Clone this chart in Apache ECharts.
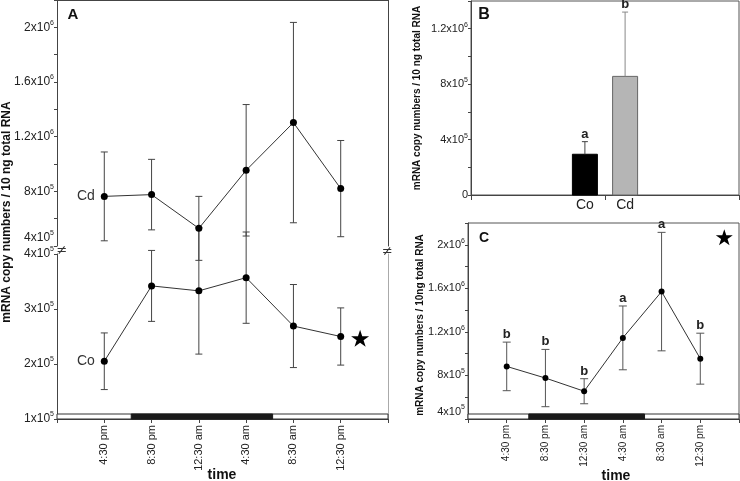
<!DOCTYPE html>
<html><head><meta charset="utf-8">
<script src="https://cdn.jsdelivr.net/npm/echarts@6/dist/echarts.min.js"></script>
<style>html,body{margin:0;padding:0;background:#fff}#c{width:740px;height:481px}</style>
</head><body><div id="c"></div>
<script>
// ---------- data ----------
const timeLabels = ['4:30 pm', '8:30 pm', '12:30 am', '4:30 am', '8:30 am', '12:30 pm'];
const seriesNames = ['Cd', 'Co'];
// Panel A
const cdMean = [7.63e5, 7.76e5, 5.29e5, 9.54e5, 13.03e5, 8.2e5];
const cdErr  = [3.25e5, 2.58e5, 2.34e5, 4.81e5, 7.33e5, 3.52e5];
const coMean = [2.05e5, 3.42e5, 3.33e5, 3.57e5, 2.69e5, 2.5e5];
const coErr  = [0.515e5, 0.645e5, 1.15e5, 0.83e5, 0.755e5, 0.52e5];
// Panel B
const bCats = ['Co', 'Cd'];
const bMean = [2.94e5, 8.56e5];
const bErr  = [0.91e5, 4.64e5];
const bLetters = ['a', 'b'];
// Panel C
const cMean = [8.83e5, 7.76e5, 6.55e5, 11.45e5, 15.7e5, 9.54e5];
const cErr  = [2.23e5, 2.63e5, 1.15e5, 2.93e5, 5.44e5, 2.34e5];
const cLetters = ['b', 'b', 'b', 'a', 'a', 'b'];
// dark period (in time-slot units, 4:30 pm = 1)
const nightStart = 1.57, nightEnd = 4.56;

// ---------- helpers ----------
const FF = 'Liberation Sans, Arial, sans-serif';
const TXT = '#222';
function sci(v) {
  if (v === 0) return '0';
  const e = Math.floor(Math.log10(v) + 1e-9);
  const m = +(v / Math.pow(10, e)).toFixed(1);
  return '{b|' + m + 'x10}{s|' + e + '}';
}
function yLab(size, every) {
  return {
    fontFamily: FF, color: TXT, margin: 3, fontSize: size,
    formatter: v => (Math.round(v / 1e5) % every === 0) ? sci(v) : '',
    rich: {
      b: {fontSize: size, fontFamily: FF, color: TXT, lineHeight: size + 4},
      s: {fontSize: Math.round(size * 0.62), fontFamily: FF, color: TXT, verticalAlign: 'top', lineHeight: Math.round(size * 0.62)}
    }
  };
}
const axLine = c => ({show: true, lineStyle: {color: c || '#444', width: 1}});
function errRender(letters, cap, color, up) {
  return function (params, api) {
    const x = api.value(0), m = api.value(1), e = api.value(2);
    const t = api.coord([x, m + e]);
    const b = up ? api.coord([x, m]) : api.coord([x, m - e]);
    const st = {stroke: color, lineWidth: 1};
    const ch = [
      {type: 'line', shape: {x1: t[0], y1: t[1], x2: b[0], y2: b[1]}, style: st},
      {type: 'line', shape: {x1: t[0] - cap / 2, y1: t[1], x2: t[0] + cap / 2, y2: t[1]}, style: st}
    ];
    if (!up) ch.push({type: 'line', shape: {x1: b[0] - cap / 2, y1: b[1], x2: b[0] + cap / 2, y2: b[1]}, style: st});
    if (letters) ch.push({type: 'text', x: t[0], y: t[1] - 1, style: {text: letters[params.dataIndex], align: 'center', verticalAlign: 'bottom', font: 'bold 13px ' + FF, fill: TXT}});
    return {type: 'group', children: ch};
  };
}
function dayNight(yMin) {
  return function (params, api) {
    const p0 = api.coord([api.value(0), yMin]);
    const p1 = api.coord([api.value(1), yMin]);
    const night = api.value(2) === 1;
    return {type: 'rect', shape: {x: p0[0], y: p0[1] - 5, width: p1[0] - p0[0], height: 5},
      style: night ? {fill: '#1a1a1a', stroke: '#1a1a1a', lineWidth: 1} : {fill: '#fff', stroke: '#333', lineWidth: 1}};
  };
}
const starPath = 'path://M100,0 L122.45,69.1 L195.1,69.1 L136.3,111.8 L158.8,180.9 L100,138.2 L41.2,180.9 L63.7,111.8 L4.9,69.1 L77.55,69.1 Z';
const pts = arr => arr.map((v, i) => [i + 1, v]);
const errPts = (m, e) => m.map((v, i) => [i + 1, v, e[i]]);
const barPos = i => 0.85 + 0.3 * i;

const chart = echarts.init(document.getElementById('c'), null, {renderer: 'canvas'});
const option = {
  animation: false,
  backgroundColor: '#fff',
  textStyle: {fontFamily: FF},
  grid: [
    {left: 57, top: 0, width: 331, height: 246},
    {left: 57, top: 254, width: 331, height: 165},
    {left: 471, top: 1, right: 1, height: 194, show: true, borderColor: '#555', borderWidth: 1},
    {left: 468, top: 223, right: 1, height: 196, show: true, borderColor: '#555', borderWidth: 1}
  ],
  xAxis: [
    {gridIndex: 0, type: 'value', min: 0, max: 7, position: 'top', axisLine: axLine(), axisTick: {show: false}, axisLabel: {show: false}, splitLine: {show: false}},
    {gridIndex: 1, type: 'value', min: 0, max: 7, interval: 1, axisLine: axLine(), axisTick: {show: true, length: 4, lineStyle: {color: '#444'}},
      axisLabel: {rotate: 90, fontSize: 11, color: TXT, margin: 6, fontFamily: FF, formatter: v => timeLabels[v - 1] || ''}, splitLine: {show: false}},
    {gridIndex: 2, type: 'value', min: 0, max: 2, interval: 1, axisLine: axLine(), axisTick: {show: true, length: 5, lineStyle: {color: '#444'}}, axisLabel: {show: false}, splitLine: {show: false}},
    {gridIndex: 3, type: 'value', min: 0, max: 7, interval: 1, axisLine: axLine(), axisTick: {show: true, length: 4, lineStyle: {color: '#444'}},
      axisLabel: {rotate: 90, fontSize: 10, color: TXT, margin: 6, fontFamily: FF, formatter: v => timeLabels[v - 1] || ''}, splitLine: {show: false}}
  ],
  yAxis: [
    Object.assign({gridIndex: 0, type: 'value', min: 4e5, max: 2.2e6, interval: 2e5, axisLine: axLine(), axisTick: {length: 3, lineStyle: {color: '#444'}}, splitLine: {show: false}},
      {axisLabel: Object.assign(yLab(12, 4), {verticalAlignMinLabel: 'bottom'})}),
    {gridIndex: 0, type: 'value', position: 'right', min: 4e5, max: 2.2e6, axisLine: axLine(), axisTick: {show: false}, axisLabel: {show: false}, splitLine: {show: false}},
    {gridIndex: 1, type: 'value', min: 1e5, max: 4e5, interval: 1e5, axisLine: axLine(), axisTick: {length: 3, lineStyle: {color: '#444'}}, splitLine: {show: false}, axisLabel: yLab(12, 1)},
    {gridIndex: 1, type: 'value', position: 'right', min: 1e5, max: 4e5, axisLine: axLine('#aaa'), axisTick: {show: false}, axisLabel: {show: false}, splitLine: {show: false}},
    {gridIndex: 2, type: 'value', min: 0, max: 1.4e6, interval: 2e5, axisLine: axLine(), axisTick: {length: 3, lineStyle: {color: '#444'}}, splitLine: {show: false}, axisLabel: yLab(11, 4)},
    {gridIndex: 3, type: 'value', min: 4e5, max: 2.2e6, interval: 2e5, axisLine: axLine(), axisTick: {length: 3, lineStyle: {color: '#444'}}, splitLine: {show: false},
      axisLabel: Object.assign(yLab(11, 4), {verticalAlignMinLabel: 'bottom'})}
  ],
  series: [
    // Panel A
    {type: 'custom', xAxisIndex: 1, yAxisIndex: 2, clip: false, renderItem: dayNight(1e5), data: [[0, 7, 0], [nightStart, nightEnd, 1]], z: 1},
    {type: 'custom', xAxisIndex: 0, yAxisIndex: 0, clip: false, renderItem: errRender(null, 7, '#444', false), data: errPts(cdMean, cdErr), z: 2},
    {type: 'custom', xAxisIndex: 1, yAxisIndex: 2, clip: false, renderItem: errRender(null, 7, '#444', false), data: errPts(coMean, coErr), z: 2},
    {type: 'line', name: seriesNames[0], xAxisIndex: 0, yAxisIndex: 0, data: pts(cdMean), symbol: 'circle', symbolSize: 7, z: 5,
      itemStyle: {color: '#000'}, lineStyle: {color: '#333', width: 1},
      label: {show: true, position: 'left', distance: 6, fontSize: 14, color: '#333', fontFamily: FF, formatter: p => p.dataIndex === 0 ? seriesNames[0] : ''}},
    {type: 'line', name: seriesNames[1], xAxisIndex: 1, yAxisIndex: 2, data: pts(coMean), symbol: 'circle', symbolSize: 7, z: 5, clip: false,
      itemStyle: {color: '#000'}, lineStyle: {color: '#333', width: 1},
      label: {show: true, position: 'left', distance: 6, fontSize: 14, color: '#333', fontFamily: FF, formatter: p => p.dataIndex === 0 ? seriesNames[1] : ''}},
    {type: 'scatter', xAxisIndex: 1, yAxisIndex: 2, data: [[6.41, 2.47e5]], symbol: starPath, symbolSize: [18, 17], itemStyle: {color: '#000', opacity: 1}, silent: true},
    // Panel B
    {type: 'custom', xAxisIndex: 2, yAxisIndex: 4, clip: false, z: 2,
      data: bMean.map((v, i) => [barPos(i), v, i]),
      renderItem: function (params, api) {
        const x = api.value(0), v = api.value(1), i = api.value(2);
        const p = api.coord([x, v]), b = api.coord([x, 0]);
        const w = 25;
        return {type: 'group', children: [
          {type: 'rect', shape: {x: p[0] - w / 2, y: p[1], width: w, height: b[1] - p[1]},
            style: {fill: i === 0 ? '#000' : '#b5b5b5', stroke: i === 0 ? '#000' : '#666', lineWidth: 1}},
          {type: 'text', x: b[0], y: b[1] + 10, style: {text: bCats[i], align: 'center', verticalAlign: 'middle', font: '14px ' + FF, fill: TXT}}
        ]};
      }},
    {type: 'custom', xAxisIndex: 2, yAxisIndex: 4, clip: false, z: 3,
      renderItem: function (params, api) {
        const f = errRender(bLetters, 6, params.dataIndex === 0 ? '#444' : '#888', true);
        return f(params, api);
      },
      data: bMean.map((v, i) => [barPos(i), v, bErr[i]])},
    // Panel C
    {type: 'custom', xAxisIndex: 3, yAxisIndex: 5, clip: false, renderItem: dayNight(4e5), data: [[0, 7, 0], [nightStart, nightEnd, 1]], z: 1},
    {type: 'custom', xAxisIndex: 3, yAxisIndex: 5, clip: false, renderItem: errRender(cLetters, 8, '#555', false), data: errPts(cMean, cErr), z: 2},
    {type: 'line', xAxisIndex: 3, yAxisIndex: 5, data: pts(cMean), symbol: 'circle', symbolSize: 6, z: 5,
      itemStyle: {color: '#000'}, lineStyle: {color: '#333', width: 1}},
    {type: 'scatter', xAxisIndex: 3, yAxisIndex: 5, data: [[6.62, 20.7e5]], symbol: starPath, symbolSize: [17, 16], itemStyle: {color: '#000', opacity: 1}, silent: true}
  ],
  graphic: [
    {type: 'text', x: 7, y: 212, rotation: Math.PI / 2, style: {text: 'mRNA copy numbers / 10 ng total RNA', font: 'bold 12px ' + FF, fill: '#111', align: 'center', verticalAlign: 'middle'}},
    {type: 'text', x: 417, y: 98, rotation: Math.PI / 2, style: {text: 'mRNA copy numbers / 10 ng total RNA', font: 'bold 10px ' + FF, fill: '#111', align: 'center', verticalAlign: 'middle'}},
    {type: 'text', x: 420, y: 325, rotation: Math.PI / 2, style: {text: 'mRNA copy numbers / 10ng total RNA', font: 'bold 10px ' + FF, fill: '#111', align: 'center', verticalAlign: 'middle'}},
    {type: 'text', x: 73, y: 15, style: {text: 'A', font: 'bold 15px ' + FF, fill: '#111', align: 'center', verticalAlign: 'middle'}},
    {type: 'text', x: 484, y: 15, style: {text: 'B', font: 'bold 16px ' + FF, fill: '#111', align: 'center', verticalAlign: 'middle'}},
    {type: 'text', x: 484, y: 238, style: {text: 'C', font: 'bold 14px ' + FF, fill: '#111', align: 'center', verticalAlign: 'middle'}},
    {type: 'text', x: 222, y: 475, style: {text: 'time', font: 'bold 14px ' + FF, fill: '#111', align: 'center', verticalAlign: 'middle'}},
    {type: 'text', x: 616, y: 476, style: {text: 'time', font: 'bold 14px ' + FF, fill: '#111', align: 'center', verticalAlign: 'middle'}},
    {type: 'text', x: 62, y: 251, style: {text: '≠', font: '13px DejaVu Sans', fill: '#333', align: 'center', verticalAlign: 'middle'}},
    {type: 'text', x: 387.5, y: 252, style: {text: '≠', font: '13px DejaVu Sans', fill: '#333', align: 'center', verticalAlign: 'middle'}}
  ]
};
chart.setOption(option);
</script>
</body></html>
